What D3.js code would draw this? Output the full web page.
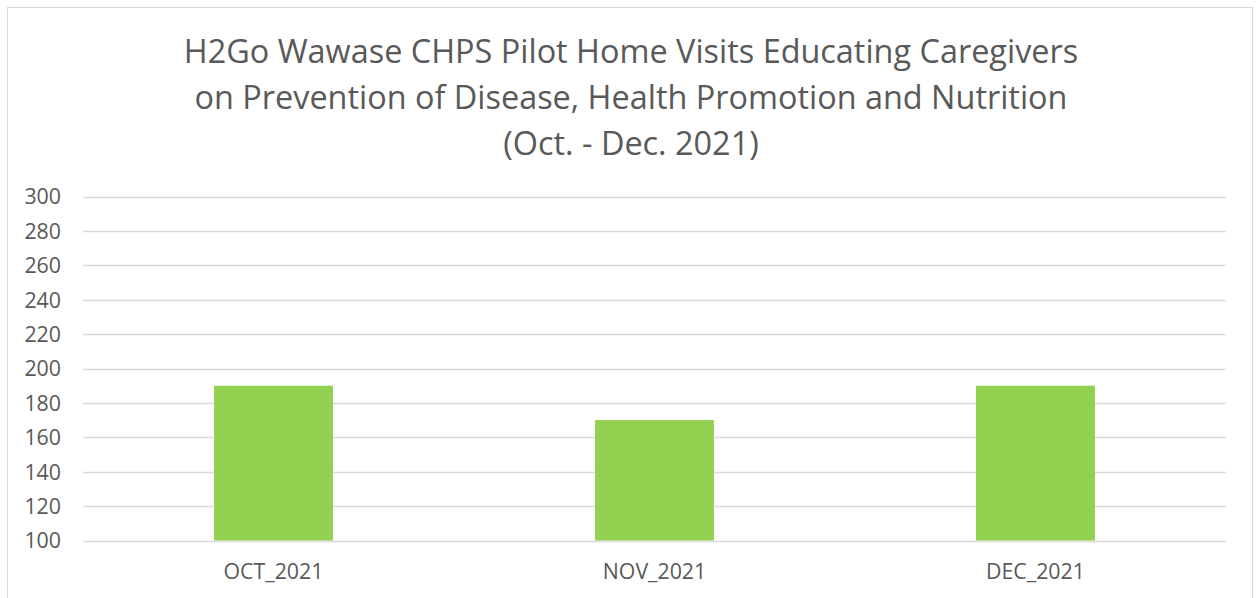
<!DOCTYPE html>
<html>
<head>
<meta charset="utf-8">
<script src="https://cdn.jsdelivr.net/npm/d3@7"></script>
<style>
html,body{margin:0;padding:0;background:#fff;}
svg{display:block;}
</style>
</head>
<body>
<script>
const titleLines = ["H2Go Wawase CHPS Pilot Home Visits Educating Caregivers",
                    "on Prevention of Disease, Health Promotion and Nutrition",
                    "(Oct. - Dec. 2021)"];
const categories = ["OCT_2021", "NOV_2021", "DEC_2021"];
const values = [190, 170, 190];
const yTicks = [100, 120, 140, 160, 180, 200, 220, 240, 260, 280, 300];

const W = 1256, H = 598;
const font = "'Open Sans', 'Noto Sans', sans-serif";
const textColor = "#595959";

const svg = d3.select("body").append("svg").attr("width", W).attr("height", H);

// chart border
svg.append("rect").attr("x", 7.5).attr("y", 7.5).attr("width", 1245).attr("height", 610)
  .attr("fill", "#fff").attr("stroke", "#d9d9d9").attr("stroke-width", 1);

const plot = {left: 83, right: 1226, top: 196.5, bottom: 540.5};

const x = d3.scaleBand().domain(categories).range([plot.left, plot.right]).paddingInner(0.688).paddingOuter(0.344);
const y = d3.scaleLinear().domain([100, 300]).range([plot.bottom, plot.top]);

// gridlines
svg.append("g").selectAll("line").data(yTicks).join("line")
  .attr("x1", plot.left).attr("x2", plot.right)
  .attr("y1", d => Math.round(y(d)) + 0.5).attr("y2", d => Math.round(y(d)) + 0.5)
  .attr("stroke", "#d9d9d9").attr("stroke-width", 1.5);

// bars
svg.append("g").selectAll("rect").data(values).join("rect")
  .attr("x", (d, i) => x(categories[i]))
  .attr("width", x.bandwidth())
  .attr("y", d => y(d))
  .attr("height", d => y(100) - y(d))
  .attr("fill", "#92D050");

// title
function fitSize(text, targetWidth, family) {
  const t = svg.append("text").attr("font-family", family).attr("font-size", 100).text(text);
  const w = t.node().getComputedTextLength();
  t.remove();
  return 100 * targetWidth / w;
}
const titleSize = fitSize(titleLines[0], 895, font);
const titleBaselines = [63, 109, 155];
svg.append("g").selectAll("text").data(titleLines).join("text")
  .attr("x", 631).attr("y", (d, i) => titleBaselines[i])
  .attr("text-anchor", "middle")
  .attr("font-family", font).attr("font-size", titleSize)
  .attr("fill", textColor).text(d => d);

// y axis labels
const tickSize = fitSize("OCT_2021", 100, font);
const yAxis = d3.axisLeft(y).tickValues(yTicks).tickSize(0).tickPadding(0);
const gy = svg.append("g").attr("transform", `translate(61,0)`).call(yAxis);
gy.select(".domain").remove();
gy.selectAll("text").attr("font-family", font).attr("font-size", tickSize)
  .attr("fill", textColor).attr("dy", "0.35em");

// x axis labels
const xAxis = d3.axisBottom(x).tickSize(0).tickPadding(0);
const gx = svg.append("g").attr("transform", `translate(0,${plot.bottom})`).call(xAxis);
gx.select(".domain").remove();
gx.selectAll("text").attr("font-family", font).attr("font-size", tickSize)
  .attr("fill", textColor).attr("y", 38).attr("dy", 0);
</script>
</body>
</html>
